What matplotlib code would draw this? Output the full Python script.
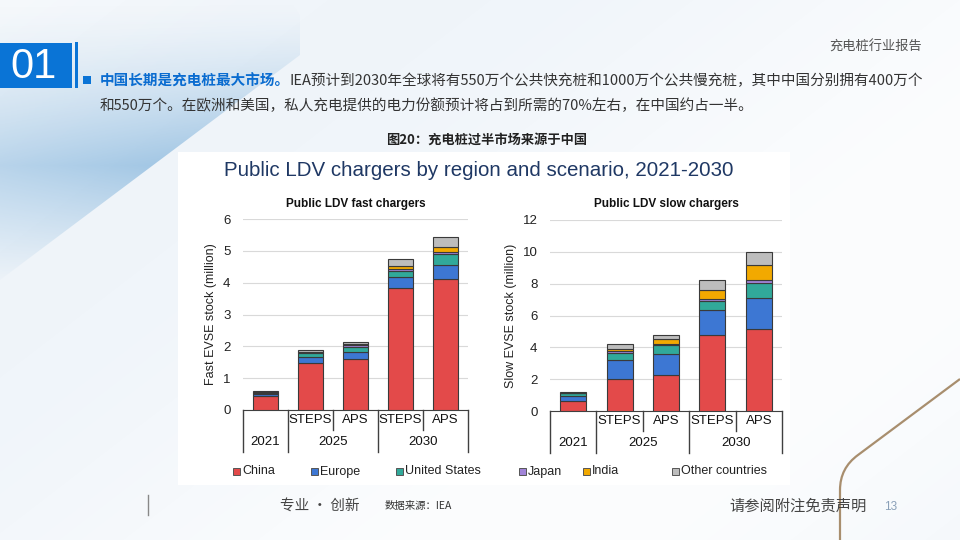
import numpy as np
import matplotlib.pyplot as plt
from matplotlib.patches import Rectangle, Polygon, PathPatch
from matplotlib.path import Path
import matplotlib.transforms as mtransforms

plt.rcParams['font.family'] = ['Liberation Sans', 'DejaVu Sans']
CJK = ['Noto Sans CJK SC', 'DejaVu Sans']

# ---------------------------------------------------------------- data
scenario_labels = ['', 'STEPS', 'APS', 'STEPS', 'APS']
year_labels = ['2021', '2025', '2030']
regions = ['China', 'Europe', 'United States', 'Japan', 'India', 'Other countries']
colors = ['#e34a4a', '#3d77d3', '#31a99a', '#a184d8', '#f2a900', '#bdbdbd']

# public fast chargers, million units (2021, 2025 STEPS, 2025 APS, 2030 STEPS, 2030 APS)
fast_china = [0.45, 1.47, 1.61, 3.82, 4.10]
fast_europe = [0.06, 0.18, 0.21, 0.36, 0.47]
fast_us = [0.03, 0.13, 0.17, 0.19, 0.32]
fast_japan = [0.02, 0.03, 0.04, 0.06, 0.07]
fast_india = [0.01, 0.02, 0.03, 0.09, 0.15]
fast_other = [0.02, 0.07, 0.08, 0.22, 0.32]

# public slow chargers, million units
slow_china = [0.65, 1.99, 2.24, 4.75, 5.13]
slow_europe = [0.31, 1.23, 1.32, 1.62, 1.97]
slow_us = [0.15, 0.44, 0.57, 0.54, 0.96]
slow_japan = [0.03, 0.09, 0.10, 0.15, 0.17]
slow_india = [0.01, 0.12, 0.29, 0.54, 0.92]
slow_other = [0.06, 0.36, 0.28, 0.63, 0.82]

fast_series = [fast_china, fast_europe, fast_us, fast_japan, fast_india, fast_other]
slow_series = [slow_china, slow_europe, slow_us, slow_japan, slow_india, slow_other]

W, H = 960, 540


def fx(x):
    return x / W


def fy(y):
    return 1 - y / H


fig = plt.figure(figsize=(9.6, 5.4), dpi=100)
fig.patch.set_facecolor('white')

# ---------------------------------------------------------------- slide background
bg = fig.add_axes([0, 0, 1, 1], zorder=-10)
bg.set_xlim(0, W)
bg.set_ylim(H, 0)
bg.axis('off')
yy, xx = np.mgrid[0:H, 0:W]
base = np.ones((H, W, 3))
tint = np.array([0.94, 0.96, 0.98])
amt = np.clip(0.6 + 0.4 * np.sin(xx / 260.0 + yy / 200.0), 0, 1)
base = base * (1 - amt[..., None]) + tint * amt[..., None]
bg.imshow(base, extent=(0, W, H, 0), zorder=0)

# soft blue band at top left, strongest just above the chart, fading out below
by, bx = np.mgrid[0:300, 0:300]
alpha = np.where(by < 165, (by / 165.0) ** 1.5, np.clip(1 - (by - 165) / 120.0, 0, 1))
alpha = alpha * (0.5 + 0.35 * bx / 300.0)
band_img = np.zeros((300, 300, 4))
band_img[..., 0] = 0.50
band_img[..., 1] = 0.70
band_img[..., 2] = 0.86
band_img[..., 3] = alpha
band = Polygon([(0, 0), (290, 0), (300, 15), (300, 55), (0, 280)], closed=True,
               facecolor='none', edgecolor='none')
bg.add_patch(band)
im = bg.imshow(band_img, extent=(0, 300, 300, 0), zorder=1)
im.set_clip_path(band)

# brown line at bottom right
verts = [(840, 540), (840, 490), (840, 468), (858, 455), (960, 379)]
codes = [Path.MOVETO, Path.LINETO, Path.CURVE3, Path.CURVE3, Path.LINETO]
bg.add_patch(PathPatch(Path(verts, codes), facecolor='none', edgecolor='#a88e6e', lw=1.6, zorder=3))

# white chart image area
bg.add_patch(Rectangle((178, 152), 612, 333, facecolor='white', edgecolor='none', zorder=2))
bg.set_xlim(0, W)
bg.set_ylim(H, 0)

# ---------------------------------------------------------------- header
bg.add_patch(Rectangle((0, 43), 72, 45, facecolor='#0a74d6', edgecolor='none', zorder=4))
bg.add_patch(Rectangle((75, 42), 3, 46, facecolor='#0a74d6', edgecolor='none', zorder=4))
fig.text(fx(34), fy(67), '01', color='white', fontsize=30, ha='center', va='center')
fig.text(fx(922), fy(47), '充电桩行业报告', family=CJK, fontsize=9.5, color='#555555',
         ha='right', va='center')

bg.add_patch(Rectangle((83, 76), 8, 8, facecolor='#0a74d6', edgecolor='none', zorder=4))
t1 = fig.text(fx(100), fy(81), '中国长期是充电桩最大市场。', family=CJK, fontsize=10.5,
              fontweight='bold', color='#0a6cd0', ha='left', va='center')
fig.canvas.draw()
r = t1.get_window_extent()
fig.text((r.x1 - 1) / W, fy(81),
         'IEA预计到2030年全球将有550万个公共快充桩和1000万个公共慢充桩，其中中国分别拥有400万个',
         family=CJK, fontsize=10.5, color='#333333', ha='left', va='center')
fig.text(fx(100), fy(106), '和550万个。在欧洲和美国，私人充电提供的电力份额预计将占到所需的70%左右，在中国约占一半。',
         family=CJK, fontsize=10.5, color='#333333', ha='left', va='center')
fig.text(fx(487), fy(140), '图20：充电桩过半市场来源于中国', family=CJK, fontsize=9.5,
         fontweight='bold', color='#222222', ha='center', va='center')

# ---------------------------------------------------------------- chart
fig.text(fx(224), fy(170), 'Public LDV chargers by region and scenario, 2021-2030',
         fontsize=14.8, color='#1f3864', ha='left', va='center')


def draw_panel(rect, series, ymax, ystep, title, ylabel):
    ax = fig.add_axes(rect)
    x = np.arange(len(scenario_labels))
    bottom = np.zeros(len(x))
    for vals, col in zip(series, colors):
        ax.bar(x, vals, width=0.56, bottom=bottom, color=col, edgecolor='#3a3a3a',
               linewidth=0.8, zorder=3)
        bottom += np.array(vals)
    ax.set_xlim(-0.5, len(x) - 0.5)
    ax.set_ylim(0, ymax)
    ax.set_yticks(np.arange(0, ymax + 0.01, ystep))
    ax.yaxis.grid(True, color='#d9d9d9', lw=0.8, zorder=0)
    ax.tick_params(axis='y', length=0, labelsize=9.5, pad=9, colors='#222222')
    ax.set_xticks([])
    for s in ['top', 'right', 'left']:
        ax.spines[s].set_visible(False)
    ax.spines['bottom'].set_color('#404040')
    ax.set_title(title, fontsize=8.5, fontweight='bold', pad=9, color='#111111')
    ax.set_ylabel(ylabel, fontsize=9, color='#222222', labelpad=4)

    tr = mtransforms.blended_transform_factory(ax.transData, ax.transAxes)
    r1, r2 = -0.105, -0.22
    for xe, yb in [(-0.5, r2), (0.5, r2), (1.5, r1), (2.5, r2), (3.5, r1), (4.5, r2)]:
        ax.plot([xe, xe], [0, yb], color='#404040', lw=1, transform=tr, clip_on=False)
    for xi, lab in zip(x, scenario_labels):
        if lab:
            ax.text(xi, r1 / 2, lab, transform=tr, ha='center', va='center', fontsize=9.5,
                    color='#111111')
    for xc, lab in zip([0, 1.5, 3.5], year_labels):
        ax.text(xc, (r1 + r2) / 2 - 0.005, lab, transform=tr, ha='center', va='center',
                fontsize=9.5, color='#111111')
    return ax


draw_panel([fx(243), fy(410), 225 / W, 191 / H], fast_series, 6, 1,
           'Public LDV fast chargers', 'Fast EVSE stock (million)')
draw_panel([fx(550), fy(411), 232 / W, 191 / H], slow_series, 12, 2,
           'Public LDV slow chargers', 'Slow EVSE stock (million)')

# legend
leg_x = [237, 315, 400, 523, 587, 676]
for lx, lab, col in zip(leg_x, regions, colors):
    bg.add_patch(Rectangle((lx - 4, 467.5), 7, 7, facecolor=col, edgecolor='#555555',
                           lw=0.7, zorder=5))
    fig.text(fx(lx + 5), fy(471.5), lab, fontsize=9, color='#222222', ha='left', va='center')

# ---------------------------------------------------------------- footer
bg.plot([148, 148], [495, 515], color='#888888', lw=1, zorder=5)
fig.text(fx(280), fy(506), '专业 · 创新', family=CJK, fontsize=10.5, color='#444444',
         ha='left', va='center')
fig.text(fx(385), fy(506), '数据来源：IEA', family=CJK, fontsize=7.5, color='#333333',
         ha='left', va='center')
fig.text(fx(867), fy(506), '请参阅附注免责声明', family=CJK, fontsize=11, color='#444444',
         ha='right', va='center')
fig.text(fx(884), fy(507), '13', fontsize=8.5, color='#8aa0b8', ha='left', va='center')

fig.savefig('out.png', dpi=100)
